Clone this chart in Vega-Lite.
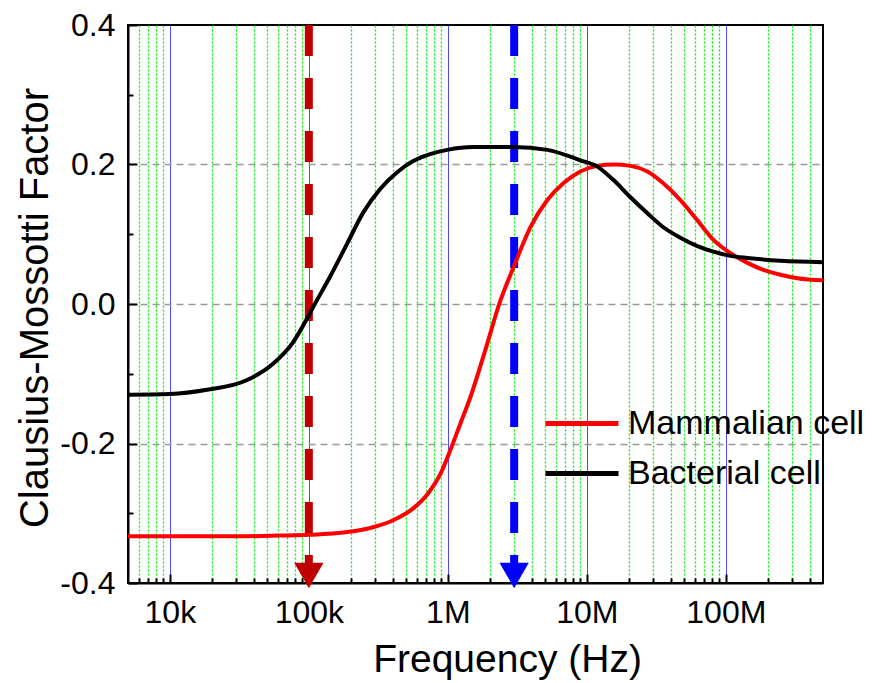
{
  "$schema": "https://vega.github.io/schema/vega-lite/v6.json",
  "width": 695,
  "height": 558,
  "autosize": "none",
  "padding": {"left": 128, "top": 25, "right": 53, "bottom": 100},
  "background": "white",
  "config": {
    "view": {"stroke": "black", "strokeWidth": 2},
    "font": "Liberation Sans"
  },
  "datasets": {
    "curves": [
      {"s": "Mammalian cell", "f": 5000, "v": -0.333},
      {"s": "Mammalian cell", "f": 10000, "v": -0.333},
      {"s": "Mammalian cell", "f": 32000, "v": -0.333},
      {"s": "Mammalian cell", "f": 62000, "v": -0.332},
      {"s": "Mammalian cell", "f": 100000, "v": -0.331},
      {"s": "Mammalian cell", "f": 189000, "v": -0.327},
      {"s": "Mammalian cell", "f": 290000, "v": -0.320},
      {"s": "Mammalian cell", "f": 404000, "v": -0.310},
      {"s": "Mammalian cell", "f": 563000, "v": -0.293},
      {"s": "Mammalian cell", "f": 711000, "v": -0.273},
      {"s": "Mammalian cell", "f": 882000, "v": -0.244},
      {"s": "Mammalian cell", "f": 1040000, "v": -0.210},
      {"s": "Mammalian cell", "f": 1228000, "v": -0.172},
      {"s": "Mammalian cell", "f": 1450000, "v": -0.134},
      {"s": "Mammalian cell", "f": 1860000, "v": -0.066},
      {"s": "Mammalian cell", "f": 2380000, "v": 0.004},
      {"s": "Mammalian cell", "f": 2960000, "v": 0.052},
      {"s": "Mammalian cell", "f": 3920000, "v": 0.110},
      {"s": "Mammalian cell", "f": 5200000, "v": 0.149},
      {"s": "Mammalian cell", "f": 6770000, "v": 0.173},
      {"s": "Mammalian cell", "f": 8980000, "v": 0.190},
      {"s": "Mammalian cell", "f": 11900000, "v": 0.198},
      {"s": "Mammalian cell", "f": 15500000, "v": 0.200},
      {"s": "Mammalian cell", "f": 20600000, "v": 0.198},
      {"s": "Mammalian cell", "f": 27300000, "v": 0.190},
      {"s": "Mammalian cell", "f": 35500000, "v": 0.173},
      {"s": "Mammalian cell", "f": 47100000, "v": 0.149},
      {"s": "Mammalian cell", "f": 62400000, "v": 0.120},
      {"s": "Mammalian cell", "f": 81400000, "v": 0.092},
      {"s": "Mammalian cell", "f": 108000000, "v": 0.073},
      {"s": "Mammalian cell", "f": 143000000, "v": 0.059},
      {"s": "Mammalian cell", "f": 186000000, "v": 0.049},
      {"s": "Mammalian cell", "f": 247000000, "v": 0.042},
      {"s": "Mammalian cell", "f": 328000000, "v": 0.037},
      {"s": "Mammalian cell", "f": 500000000, "v": 0.034},
      {"s": "Bacterial cell", "f": 5000, "v": -0.130},
      {"s": "Bacterial cell", "f": 10000, "v": -0.129},
      {"s": "Bacterial cell", "f": 18500, "v": -0.123},
      {"s": "Bacterial cell", "f": 36000, "v": -0.109},
      {"s": "Bacterial cell", "f": 55000, "v": -0.086},
      {"s": "Bacterial cell", "f": 77000, "v": -0.055},
      {"s": "Bacterial cell", "f": 97000, "v": -0.021},
      {"s": "Bacterial cell", "f": 107000, "v": -0.005},
      {"s": "Bacterial cell", "f": 142000, "v": 0.039},
      {"s": "Bacterial cell", "f": 189000, "v": 0.087},
      {"s": "Bacterial cell", "f": 246000, "v": 0.131},
      {"s": "Bacterial cell", "f": 326000, "v": 0.165},
      {"s": "Bacterial cell", "f": 432000, "v": 0.189},
      {"s": "Bacterial cell", "f": 563000, "v": 0.205},
      {"s": "Bacterial cell", "f": 747000, "v": 0.215},
      {"s": "Bacterial cell", "f": 990000, "v": 0.221},
      {"s": "Bacterial cell", "f": 1520000, "v": 0.225},
      {"s": "Bacterial cell", "f": 2960000, "v": 0.225},
      {"s": "Bacterial cell", "f": 5200000, "v": 0.221},
      {"s": "Bacterial cell", "f": 8980000, "v": 0.206},
      {"s": "Bacterial cell", "f": 11900000, "v": 0.197},
      {"s": "Bacterial cell", "f": 15500000, "v": 0.178},
      {"s": "Bacterial cell", "f": 20600000, "v": 0.153},
      {"s": "Bacterial cell", "f": 27300000, "v": 0.130},
      {"s": "Bacterial cell", "f": 35500000, "v": 0.110},
      {"s": "Bacterial cell", "f": 47100000, "v": 0.095},
      {"s": "Bacterial cell", "f": 62400000, "v": 0.083},
      {"s": "Bacterial cell", "f": 81400000, "v": 0.075},
      {"s": "Bacterial cell", "f": 108000000, "v": 0.069},
      {"s": "Bacterial cell", "f": 143000000, "v": 0.066},
      {"s": "Bacterial cell", "f": 247000000, "v": 0.062},
      {"s": "Bacterial cell", "f": 500000000, "v": 0.060}
    ],
    "redArrow": [{"f": 100000}],
    "blueArrow": [{"f": 3000000}]
  },
  "encoding": {
    "x": {
      "field": "f",
      "type": "quantitative",
      "scale": {"type": "log", "domain": [5000, 500000000], "nice": false},
      "axis": {
        "values": [6000, 7000, 8000, 9000, 10000, 20000, 30000, 40000, 50000, 60000, 70000, 80000, 90000, 100000, 200000, 300000, 400000, 500000, 600000, 700000, 800000, 900000, 1000000, 2000000, 3000000, 4000000, 5000000, 6000000, 7000000, 8000000, 9000000, 10000000, 20000000, 30000000, 40000000, 50000000, 60000000, 70000000, 80000000, 90000000, 100000000, 200000000, 300000000, 400000000],
        "labelExpr": "datum.value == 10000 ? '10k' : datum.value == 100000 ? '100k' : datum.value == 1000000 ? '1M' : datum.value == 10000000 ? '10M' : datum.value == 100000000 ? '100M' : ''",
        "labelFontSize": 32,
        "labelColor": "black",
        "labelPadding": 23.6,
        "labelOverlap": false,
        "labelFlush": false,
        "title": "Frequency (Hz)",
        "titleFontSize": 39,
        "titleFontWeight": "normal",
        "titleColor": "black",
        "titleX": 379,
        "titleY": 88,
        "titleBaseline": "alphabetic",
        "titleAlign": "center",
        "domainColor": "black",
        "domainWidth": 2,
        "tickColor": "black",
        "tickWidth": 2,
        "tickSize": {"condition": {"test": "indexof([10000,100000,1000000,10000000,100000000], datum.value) >= 0", "value": -9}, "value": -5},
        "grid": true,
        "gridColor": {"condition": {"test": "indexof([10000,100000,1000000,10000000,100000000], datum.value) >= 0", "value": "#4d4dff"}, "value": "#00ee00"},
        "gridDash": {"condition": {"test": "indexof([10000,100000,1000000,10000000,100000000], datum.value) >= 0", "value": []}, "value": [2, 2]},
        "gridWidth": {"condition": {"test": "indexof([10000,100000,1000000,10000000,100000000], datum.value) >= 0", "value": 1}, "value": 1.3},
        "gridOpacity": 1
      }
    }
  },
  "layer": [
    {
      "data": {"name": "redArrow"},
      "mark": {"type": "rule", "color": "#c00000", "strokeWidth": 8, "strokeDash": [31, 22], "strokeCap": "butt"},
      "encoding": {"y": {"datum": 0.4, "type": "quantitative"}, "y2": {"datum": -0.372}}
    },
    {
      "data": {"name": "redArrow"},
      "mark": {"type": "point", "shape": "triangle-down", "size": 860, "filled": true, "opacity": 1, "color": "#c00000", "yOffset": -7.5},
      "encoding": {"y": {"datum": -0.4, "type": "quantitative"}}
    },
    {
      "data": {"name": "blueArrow"},
      "mark": {"type": "rule", "color": "#0000ff", "strokeWidth": 8, "strokeDash": [31, 22], "strokeCap": "butt"},
      "encoding": {"y": {"datum": 0.4, "type": "quantitative"}, "y2": {"datum": -0.372}}
    },
    {
      "data": {"name": "blueArrow"},
      "mark": {"type": "point", "shape": "triangle-down", "size": 860, "filled": true, "opacity": 1, "color": "#0000ff", "yOffset": -7.5},
      "encoding": {"y": {"datum": -0.4, "type": "quantitative"}}
    },
    {
      "data": {"name": "curves"},
      "mark": {"type": "line", "strokeWidth": 4, "interpolate": "monotone"},
      "encoding": {
        "y": {
          "field": "v",
          "type": "quantitative",
          "scale": {"domain": [-0.4, 0.4], "nice": false, "zero": false},
          "axis": {
            "values": [-0.4, -0.3, -0.2, -0.1, 0, 0.1, 0.2, 0.3, 0.4],
            "labelExpr": "abs(round(datum.value*10)) % 2 == 0 ? replace(format(datum.value, '.1f'), '\u2212', '-') : ''",
            "labelFontSize": 32,
            "labelColor": "black",
            "labelPadding": 22,
            "labelOverlap": false,
            "labelFlush": false,
            "title": "Clausius-Mossotti Factor",
            "titleFontSize": 40,
            "titleFontWeight": "normal",
            "titleColor": "black",
            "titleX": -81,
            "titleY": 282.5,
            "titleAngle": 270,
            "titleBaseline": "alphabetic",
            "titleAlign": "center",
            "domainColor": "black",
            "domainWidth": 2,
            "tickColor": "black",
            "tickWidth": 2,
            "tickSize": {"condition": {"test": "abs(round(datum.value*10)) % 2 == 0", "value": -9}, "value": -5},
            "grid": true,
            "gridColor": {"condition": {"test": "abs(round(datum.value*10)) % 2 == 0 && abs(datum.value) < 0.35", "value": "#999999"}, "value": "transparent"},
            "gridDash": [7, 5],
            "gridWidth": 1.5
          }
        },
        "color": {
          "field": "s",
          "type": "nominal",
          "scale": {"domain": ["Mammalian cell", "Bacterial cell"], "range": ["#ff0000", "#000000"]},
          "legend": {
            "orient": "none",
            "legendX": 436.5,
            "legendY": 381,
            "title": null,
            "symbolType": "M-2.4333,0H2.4333",
            "symbolSize": 900,
            "symbolStrokeWidth": 5,
            "labelFontSize": 34,
            "labelFont": "Liberation Sans",
            "labelColor": "black",
            "labelOffset": 28.5,
            "labelLimit": 400,
            "rowPadding": 15,
            "padding": 0
          }
        }
      }
    }
  ]
}
